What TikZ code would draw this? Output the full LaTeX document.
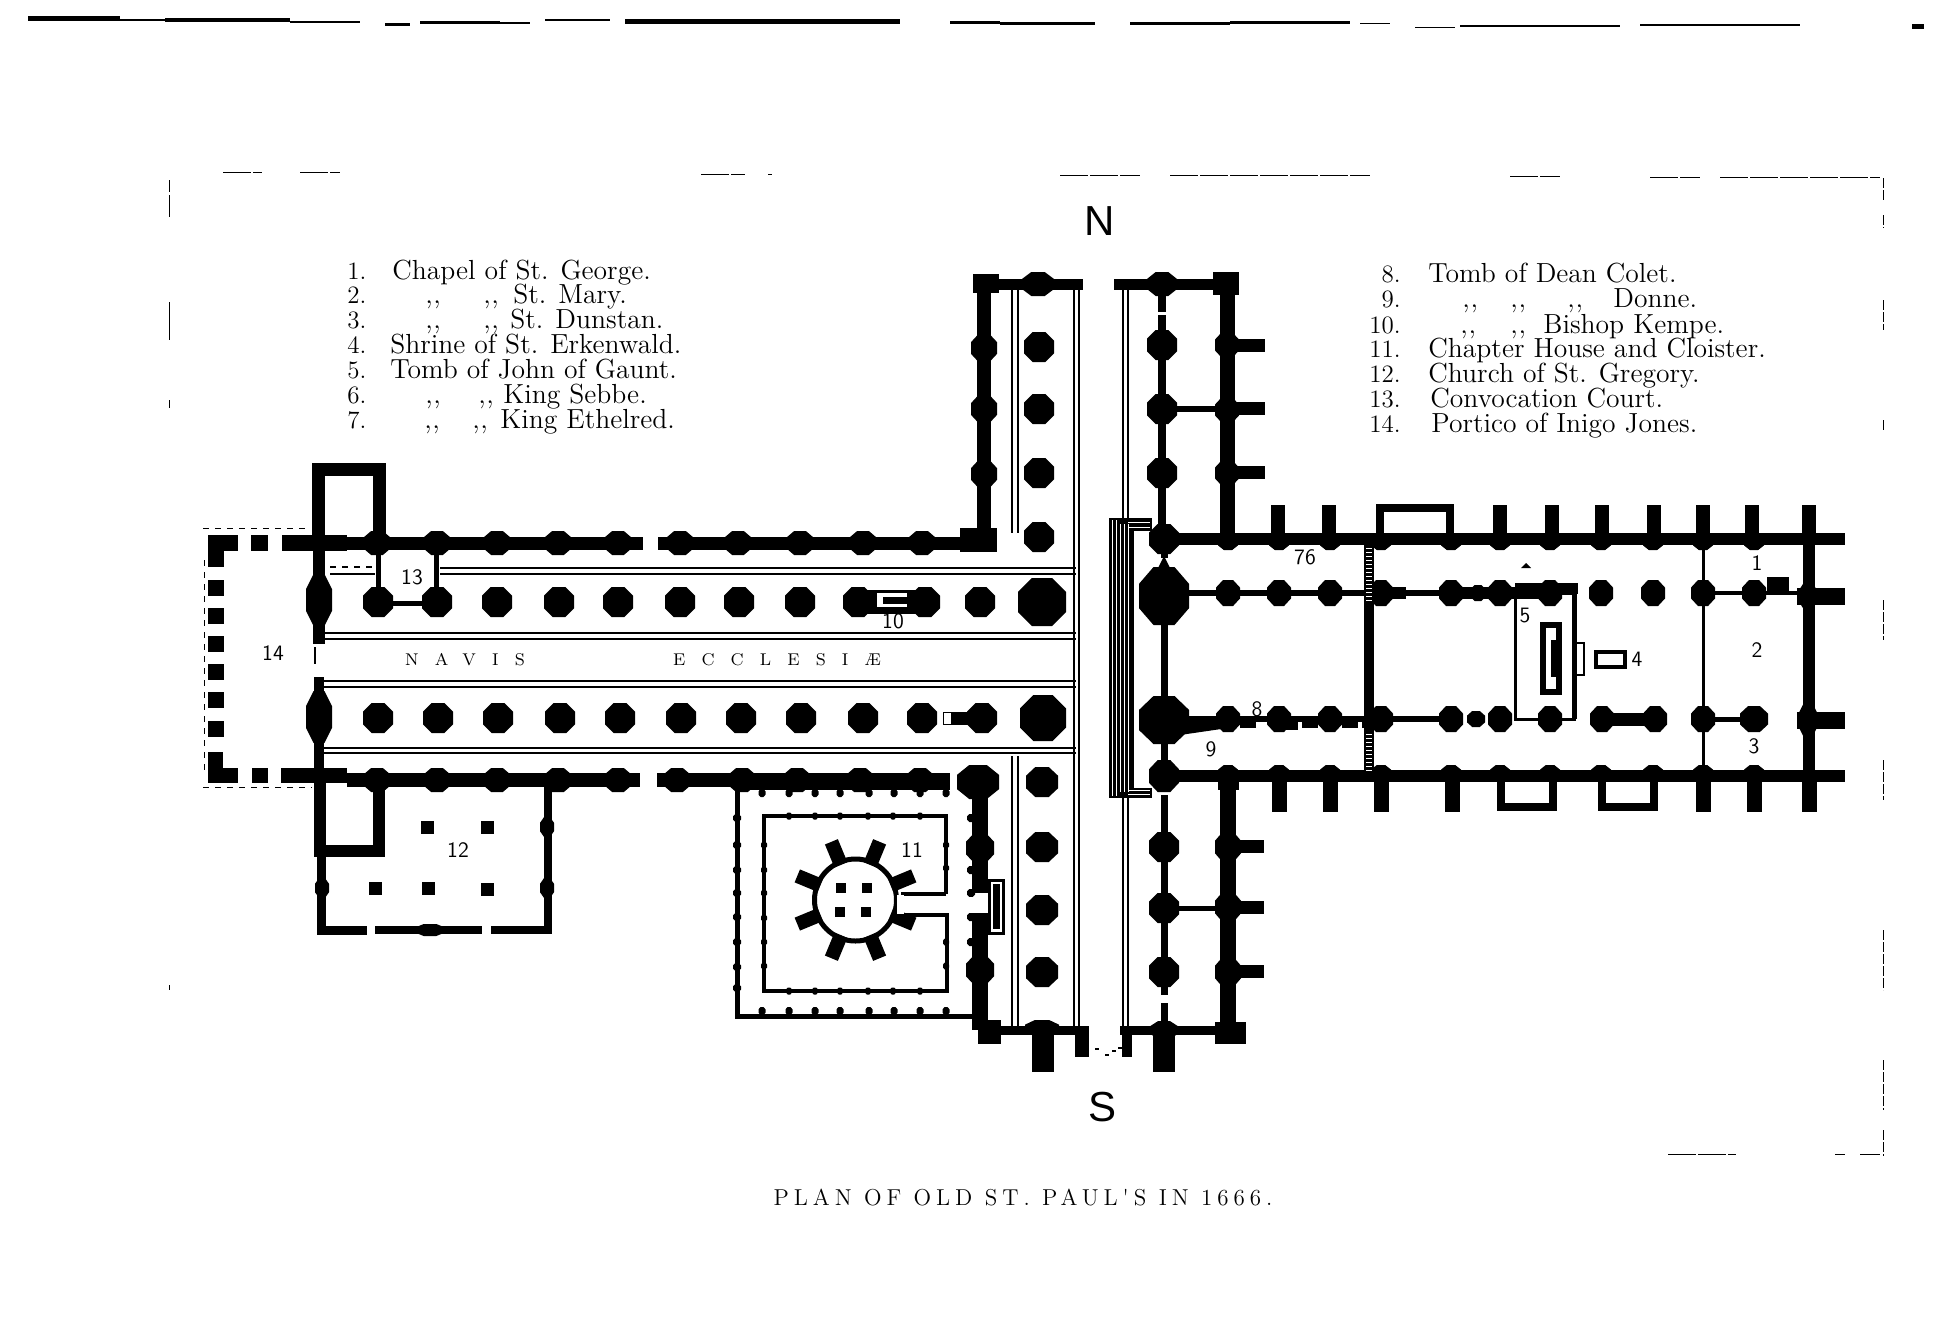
\documentclass[tikz,border=0pt]{standalone}
\usepackage{fontspec}
\newfontfamily\compassfont{Liberation Sans}
\newfontfamily\captionfont[LetterSpace=21.5]{Latin Modern Roman}
\newfontfamily\naviscaps[LetterSpace=95]{Latin Modern Roman}
\usetikzlibrary{calc,positioning}
% pier with eight sides: x, y, half width, half height
\newcommand{\pier}[4]{\fill (#1-#3,#2-.42*#4)--(#1-.42*#3,#2-#4)--(#1+.42*#3,#2-#4)--(#1+#3,#2-.42*#4)--(#1+#3,#2+.42*#4)--(#1+.42*#3,#2+#4)--(#1-.42*#3,#2+#4)--(#1-#3,#2+.42*#4)--cycle;}
\newcommand{\ditto}{,\kern0.3pt,}
\tikzset{
  wall/.style={line width=#1*0.5pt},
  planline/.style={line width=0.7pt},
  frameline/.style={line width=0.5pt},
  legend/.style={anchor=base west,inner sep=0,font=\fontsize{13.8}{15}\selectfont},
  legendnum/.style={legend,font=\fontsize{12.5}{15}\selectfont},
  tag/.style={inner sep=0,font=\sffamily\fontsize{11}{11}\selectfont},
  compass/.style={inner sep=0,font=\compassfont\fontsize{21}{21}\selectfont},
}
\begin{document}
\begin{tikzpicture}[x=0.5pt,y=-0.5pt]
\useasboundingbox (0,0) rectangle (1942,1329);
\fill[white] (0,0) rectangle (1942,1329);

% top edge of the page
\foreach \xa/\xb/\yy/\ww in {28/120/18/5,120/165/20/2,165/290/20/4,290/360/22/2,385/410/24/3,420/500/22/3,500/530/23/2,545/610/20/2,625/900/21/5,950/1000/22/3,1000/1095/23/3,1130/1230/23/3,1230/1350/22/3,1360/1390/23/1,1415/1455/27/1,1460/1620/26/2,1640/1800/25/2,1912/1924/26/5}
  {\draw[wall=\ww] (\xa,\yy)--(\xb,\yy);}

% broken frame
\foreach \xa/\xb/\yy in {223/262/172,300/340/172,701/745/174,768/772/174,1060/1140/175,1170/1370/175,1510/1560/176,1650/1700/177,1720/1880/177,1668/1736/1154,1835/1845/1154,1860/1880/1154}
  {\draw[frameline,dash pattern=on 14pt off 1pt] (\xa,\yy)--(\xb,\yy);}
\foreach \ya/\yb in {180/192,195/217,302/340,400/408,985/990}
  {\draw[frameline] (169,\ya)--(169,\yb);}
\foreach \ya/\yb in {178/200,215/228,300/330,420/430,600/640,760/800,930/990,1060/1110,1130/1156}
  {\draw[frameline,dash pattern=on 5pt off 1pt] (1883,\ya)--(1883,\yb);}

% lines of the nave and transept
\foreach \ya in {633,639,681,687,748,753}
  {\draw[planline] (322,\ya)--(1076,\ya);}
\foreach \ya in {568,574}
  {\draw[planline] (440,\ya)--(1076,\ya);}
\draw[planline] (330,574)--(375,574);
\draw[planline,dashed] (318,567)--(375,567);
\foreach \xa in {1012,1018}
{\draw[planline] (\xa,290)--(\xa,533);
 \draw[planline] (\xa,756)--(\xa,1027);}
\foreach \xa in {1074,1079}
  {\draw[planline] (\xa,289)--(\xa,1027);}
\foreach \xa in {1123,1128}
{\draw[planline] (\xa,290)--(\xa,520);
 \draw[planline] (\xa,798)--(\xa,1027);}
\draw[frameline,dashed] (203,528)--(310,528);
\draw[frameline,dashed] (203,787)--(312,787);
\draw[frameline,dashed] (204,560)--(204,770);

% portico
\fill (208,535) rectangle (238,551);
\fill (251,535) rectangle (268,551);
\fill (282,535) rectangle (347,551);
\fill (208,768) rectangle (238,783);
\fill (252,768) rectangle (268,783);
\fill (281,768) rectangle (347,783);
\fill (208,535) rectangle (224,567);
\fill (208,752) rectangle (223,783);
\foreach \ya in {580,608,636,664,692,721}
  {\fill (208,\ya) rectangle (224,\ya+16);}

% towers and west wall
\draw[wall=13] (318.5,535)--(318.5,469.5)--(379.5,469.5)--(379.5,535);
\fill (313,551) rectangle (325,644);
\fill (314,677) rectangle (324,770);
\draw[wall=2] (315,647)--(315,664);
\pier{319}{600}{13}{26}
\pier{319}{717}{13}{26}
\draw[wall=12] (320,783)--(320,851)--(379,851)--(379,783);
\draw[wall=9] (321,851)--(321,930)--(367,930);
\draw[wall=8] (375,930)--(482,930);
\draw[wall=8] (491,930)--(548,930)--(548,783);
\pier{322}{888}{7}{10}
\pier{547}{827}{7}{10}
\pier{547}{888}{7}{10}
\pier{430}{930}{15}{6}

% church of St. Gregory
\foreach \xa/\ya in {427/827,487/827,375/888,428/888,487/889}
  {\fill (\xa-6.5,\ya-6.5) rectangle (\xa+6.5,\ya+6.5);}

% nave walls
\draw[wall=13] (347,543)--(643,543);
\draw[wall=13] (658,543)--(985,543);
\draw[wall=14] (347,780)--(640,780);
\draw[wall=14] (657,780)--(950,780);
\foreach \xa in {377,437,497,558,618,680,738,800,863,922}
  {\pier{\xa}{543}{14}{12}}
\foreach \xa in {377,437,497,558,618,677,742,797,860,920}
  {\pier{\xa}{780}{14}{12}}

% court
\draw[wall=5] (378,543)--(378,603)--(436,603)--(436,543);

% nave columns
\foreach \xa in {378,437,497,559,618,680,739,800,858,925,980}
  {\pier{\xa}{602}{15}{15}}
\foreach \xa in {378,438,498,560,620,681,741,801,863,922,982}
  {\pier{\xa}{718}{15}{15}}
\pier{1042}{602}{24}{24}
\pier{1043}{718}{23}{23}
\fill (858,590) rectangle (925,614);
\fill[white] (877,593) rectangle (907,607);
\fill (883,597) rectangle (907,604);
\fill (943,712) rectangle (982,725);
\fill[white] (944,713) rectangle (951,724);

% north transept
\draw[wall=14] (984,285)--(984,530);
\draw[wall=11] (985,284)--(1083,284);
\fill (973,274) rectangle (999,293);
\pier{1038}{284}{16}{12}
\foreach \ya in {348,409,474}
  {\pier{984}{\ya}{13}{14}}
\fill (960,528) rectangle (997,552);
\foreach \ya in {347,409,473,537}
  {\pier{1039}{\ya}{15}{15}}
\draw[wall=11] (1114,284)--(1228,284);
\fill (1213,272) rectangle (1239,295);
\pier{1162}{284}{15}{12}
\draw[wall=8] (1162,290)--(1162,312);
\draw[wall=8] (1162,315)--(1162,530);
\foreach \ya in {345,409,473}
  {\pier{1162}{\ya}{15}{15}}
\draw[wall=15] (1227,290)--(1227,533);
\foreach \ya in {345,410,473}
  {\pier{1227}{\ya}{12}{13}}
\foreach \ya in {345,408,472}
  {\fill (1227,\ya-6.5) rectangle (1265,\ya+6.5);}
\draw[wall=6] (1162,409)--(1227,409);

% south transept
\draw[wall=16] (980,797)--(980,893);
\draw[wall=16] (980,913)--(980,1030);
\pier{978}{782}{21}{17}
\foreach \ya in {848,970}
  {\pier{980}{\ya}{14}{15}}
\foreach \ya in {782,847,910,972}
  {\pier{1042}{\ya}{16}{15}}
\draw[wall=9] (980,1030)--(1089,1030);
\fill (978,1020) rectangle (1001,1044);
\pier{1042}{1028}{17}{8}
\fill (1032,1030) rectangle (1054,1072);
\fill (1075,1030) rectangle (1089,1057);
\draw[wall=9] (1120,1030)--(1244,1030);
\fill (1122,1030) rectangle (1132,1057);
\fill (1215,1022) rectangle (1246,1044);
\fill (1153,1030) rectangle (1175,1072);
\pier{1164}{1030}{14}{9}
\draw[wall=7] (1164,795)--(1164,995);
\draw[wall=7] (1164,1003)--(1164,1030);
\foreach \ya in {847,908,972}
  {\pier{1164}{\ya}{15}{15}}
\draw[wall=16] (1228,780)--(1228,1025);
\foreach \ya in {847,907,972}
  {\pier{1228}{\ya}{13}{15}}
\foreach \ya in {846,907,971}
  {\fill (1228,\ya-6.5) rectangle (1264,\ya+6.5);}
\draw[wall=5] (1164,908)--(1228,908);
\foreach \xa/\ya in {1085/1052,1095/1048,1105/1054,1112/1050,1118/1047}
  {\fill (\xa,\ya) rectangle (\xa+4,\ya+2);}

% cloister
\fill (734,780) rectangle (950,790);
\draw[wall=5] (737,790)--(737,1016)--(975,1016);
\foreach \xa in {762,789,815,840,869,894,920,946}
{\pier{\xa}{793}{3.5}{4}
 \pier{\xa}{1011}{3.5}{4}}
\foreach \ya in {818,845,870,893,917,942,967,988}
  {\pier{737}{\ya}{4}{4}}
\foreach \ya in {818,845,870,893,917,942,967}
  {\pier{971}{\ya}{4}{4}}
\draw[wall=4] (946,894)--(946,816)--(764,816)--(764,991)--(947,991)--(947,915)--(901,915);
\draw[wall=4] (901,894)--(946,894);
\foreach \xa in {789,815,840,868,893,920}
{\pier{\xa}{816}{3}{3.5}
 \pier{\xa}{991}{3}{3.5}}
\foreach \ya in {845,870,893,918,942,966}
  {\pier{764}{\ya}{3}{3.5}}
\foreach \ya in {845,868,942,966}
  {\pier{946}{\ya}{3}{3.5}}
\fill[white] (949,897) rectangle (989,912);
\draw[wall=3,fill=white] (989,880) rectangle (1003,933);
\fill (993,884) rectangle (1000,929);

% chapter house
\draw[wall=5] (855.5,900) circle (41);
\foreach \ang in {22.5,67.5,...,337.5}
  {\draw[wall=14] ($(855.5,900)+(\ang:38)$)--($(855.5,900)+(\ang:63)$);}
\foreach \xa/\ya in {841/888,867/888,840/912,866/912}
  {\fill (\xa-5,\ya-5) rectangle (\xa+5,\ya+5);}
\fill[white] (897,895) rectangle (904,914);

% choir walls
\draw[wall=12] (1150,539)--(1845,539);
\draw[wall=12] (1150,776)--(1845,776);
\foreach \xa in {1278,1329,1500,1552,1602,1654,1703,1752,1809}
  {\fill (\xa-7,505) rectangle (\xa+7,533);}
\draw[wall=8] (1380,533)--(1380,508)--(1450,508)--(1450,533);
\foreach \xa in {1279,1330,1381,1452,1703,1754,1809}
  {\fill (\xa-7.5,782) rectangle (\xa+7.5,812);}
\draw[wall=8] (1501,780)--(1501,807)--(1553,807)--(1553,780);
\draw[wall=8] (1602,780)--(1602,807)--(1654,807)--(1654,780);
\fill (1218,776) rectangle (1239,790);
\foreach \xa in {1228,1279,1330,1381,1451,1500,1550,1601,1653,1703,1754}
{\pier{\xa}{542}{10}{8}
 \pier{\xa}{773}{10}{8}}
\draw[wall=12] (1809,539)--(1809,776);
\foreach \ya in {596.5,720}
  {\fill (1797,\ya-8.5) rectangle (1845,\ya+8.5);}
\pier{1808}{720}{9}{18}
\pier{1808}{596}{9}{14}

% crossing piers
\draw[wall=7] (1164,625)--(1164,697);
\draw[wall=7] (1164,550)--(1164,558);
\draw[wall=7] (1164,740)--(1164,776);
\fill (1164,556)--(1158,568)--(1170,568)--cycle;
\pier{1164}{596}{25}{29}
\pier{1164}{720}{25}{24}
\pier{1164}{539}{15}{15}
\pier{1164}{776}{15}{16}
\fill (1164,556)--(1158,548)--(1170,548)--cycle;

% hatched stair of the crossing
\fill (1109,518) rectangle (1134,798);
\fill (1109,518) rectangle (1152,531);
\fill (1109,788) rectangle (1152,798);
\foreach \xa/\ya/\yb in {1112/520/796,1116/520/796,1120/524/792,1124/524/792,1128/524/792}
  {\draw[white,wall=0.9] (\xa,\ya)--(\xa,\yb);}
\foreach \ya in {522,527,790,794}
  {\draw[white,wall=0.9] (1128,\ya)--(1150,\ya);}

% piers of the choir, north side
\draw[wall=6] (1189,593)--(1451,593);
\fill (1381,587) rectangle (1406,599);
\foreach \xa in {1228,1279,1330,1381,1451,1500,1550,1601,1653,1703,1754}
  {\pier{\xa}{593}{12}{13}}
\pier{1478}{593}{8}{8}
\fill (1451,587) rectangle (1550,599);
\fill (1515,583) rectangle (1578,594);
\draw[wall=4] (1703,593)--(1808,593);
\fill (1767,577) rectangle (1789,592);

% piers of the choir, south side
\draw[wall=6] (1180,719)--(1451,719);
\fill (1180,716)--(1228,716)--(1228,728)--(1180,735)--cycle;
\foreach \xa/\yy in {1248/722,1290/724,1310/722,1350/722,1370/722}
  {\fill (\xa-8,\yy-2) rectangle (\xa+8,\yy+6);}
\foreach \xa in {1228,1279,1330,1381,1451,1500,1550,1602,1655,1703}
  {\pier{\xa}{719}{12}{13}}
\pier{1754}{719}{14}{13}
\pier{1476}{719}{9}{8}
\fill (1602,713) rectangle (1655,726);
\draw[wall=5] (1703,719)--(1754,719);

% screens and tomb enclosure
\fill (1364,545) rectangle (1374,772);
\foreach \ya in {548,552,...,600}
  {\draw[white,wall=1] (1366,\ya)--(1372,\ya);}
\foreach \ya in {734,738,...,770}
  {\draw[white,wall=1] (1366,\ya)--(1372,\ya);}
\draw[wall=3] (1703,545)--(1703,770);
\draw[wall=3] (1574,593)--(1515,593)--(1515,719)--(1574,719)--cycle;
\draw[wall=5] (1574,593)--(1574,719);
\draw[wall=6,fill=white] (1543,625) rectangle (1559,692);
\fill (1551,640) rectangle (1560,677);
\draw[wall=2.5,fill=white] (1576,643) rectangle (1584,675);
\draw[wall=3.5] (1596,652) rectangle (1625,667);
\fill (1521,568)--(1531,568)--(1526,563)--cycle;

% names in the plan
\node[tag] (num1) at (1757,563) {1};
\node[tag] (num2) at (1757,650) {2};
\node[tag] (num3) at (1754,746) {3};
\node[tag] (num4) at (1637,659) {4};
\node[tag] (num5) at (1525,616) {5};
\node[tag] (num76) at (1305,557) {76};
\node[tag] (num8) at (1257,709) {8};
\node[tag] (num9) at (1211,749) {9};
\node[tag] (num10) at (893,621) {10};
\node[tag] (num11) at (912,850) {11};
\node[tag] (num12) at (458,850) {12};
\node[tag] (num13) at (412,577) {13};
\node[tag] (num14) at (273,653) {14};
\node[inner sep=0,font=\naviscaps\fontsize{8.5}{10}\selectfont] (navis) at (465,660) {NAVIS};
\node[inner sep=0,font=\naviscaps\fontsize{8.5}{10}\selectfont] (ecclesiae) at (777,660) {ECCLESIÆ};

\node[compass] (north) at (1100,221) {N};
\node[compass] (south) at (1102,1107) {S};

% legend
\foreach \n/\yy in {1/279,2/303,3/328,4/353,5/378,6/403,7/428}
  {\node[legendnum] (left\n) at (347,\yy) {\n.};}
\foreach \n/\xa/\yy/\txt in {a/392/279/{Chapel of St. George.},b/513/303/{St. Mary.},c/510/328/{St. Dunstan.},d/390/353/{Shrine of St. Erkenwald.},e/390/378/{Tomb of John of Gaunt.},f/503/403/{King Sebbe.},g/500/428/{King Ethelred.}}
  {\node[legend] (entry\n) at (\xa,\yy) {\txt};}
\foreach \n/\yy in {8/282,9/307,10/333,11/357,12/382,13/407,14/432}
  {\node[legendnum,anchor=base east] (right\n) at (1401,\yy) {\n.};}
\foreach \n/\xa/\yy/\txt in {h/1428/282/{Tomb of Dean Colet.},i/1613/307/{Donne.},j/1543/333/{Bishop Kempe.},k/1428/357/{Chapter House and Cloister.},l/1428/382/{Church of St. Gregory.},m/1430/407/{Convocation Court.},n/1431/432/{Portico of Inigo Jones.}}
  {\node[legend] (entry\n) at (\xa,\yy) {\txt};}
\foreach \n/\xa/\yy in {a/425/303,b/483/303,c/425/328,d/483/328,e/425/403,f/478/403,g/424/428,h/472/428,i/1462/307,j/1510/307,k/1567/307,l/1460/333,m/1510/333}
  {\node[legend] (ditto\n) at (\xa,\yy) {\ditto};}

% caption
\node[anchor=base,inner sep=0,font=\captionfont\fontsize{11.5}{13}\selectfont] (caption) at (1023,1205) {PLAN OF OLD ST. PAUL'S IN 1666.};
\end{tikzpicture}
\end{document}
